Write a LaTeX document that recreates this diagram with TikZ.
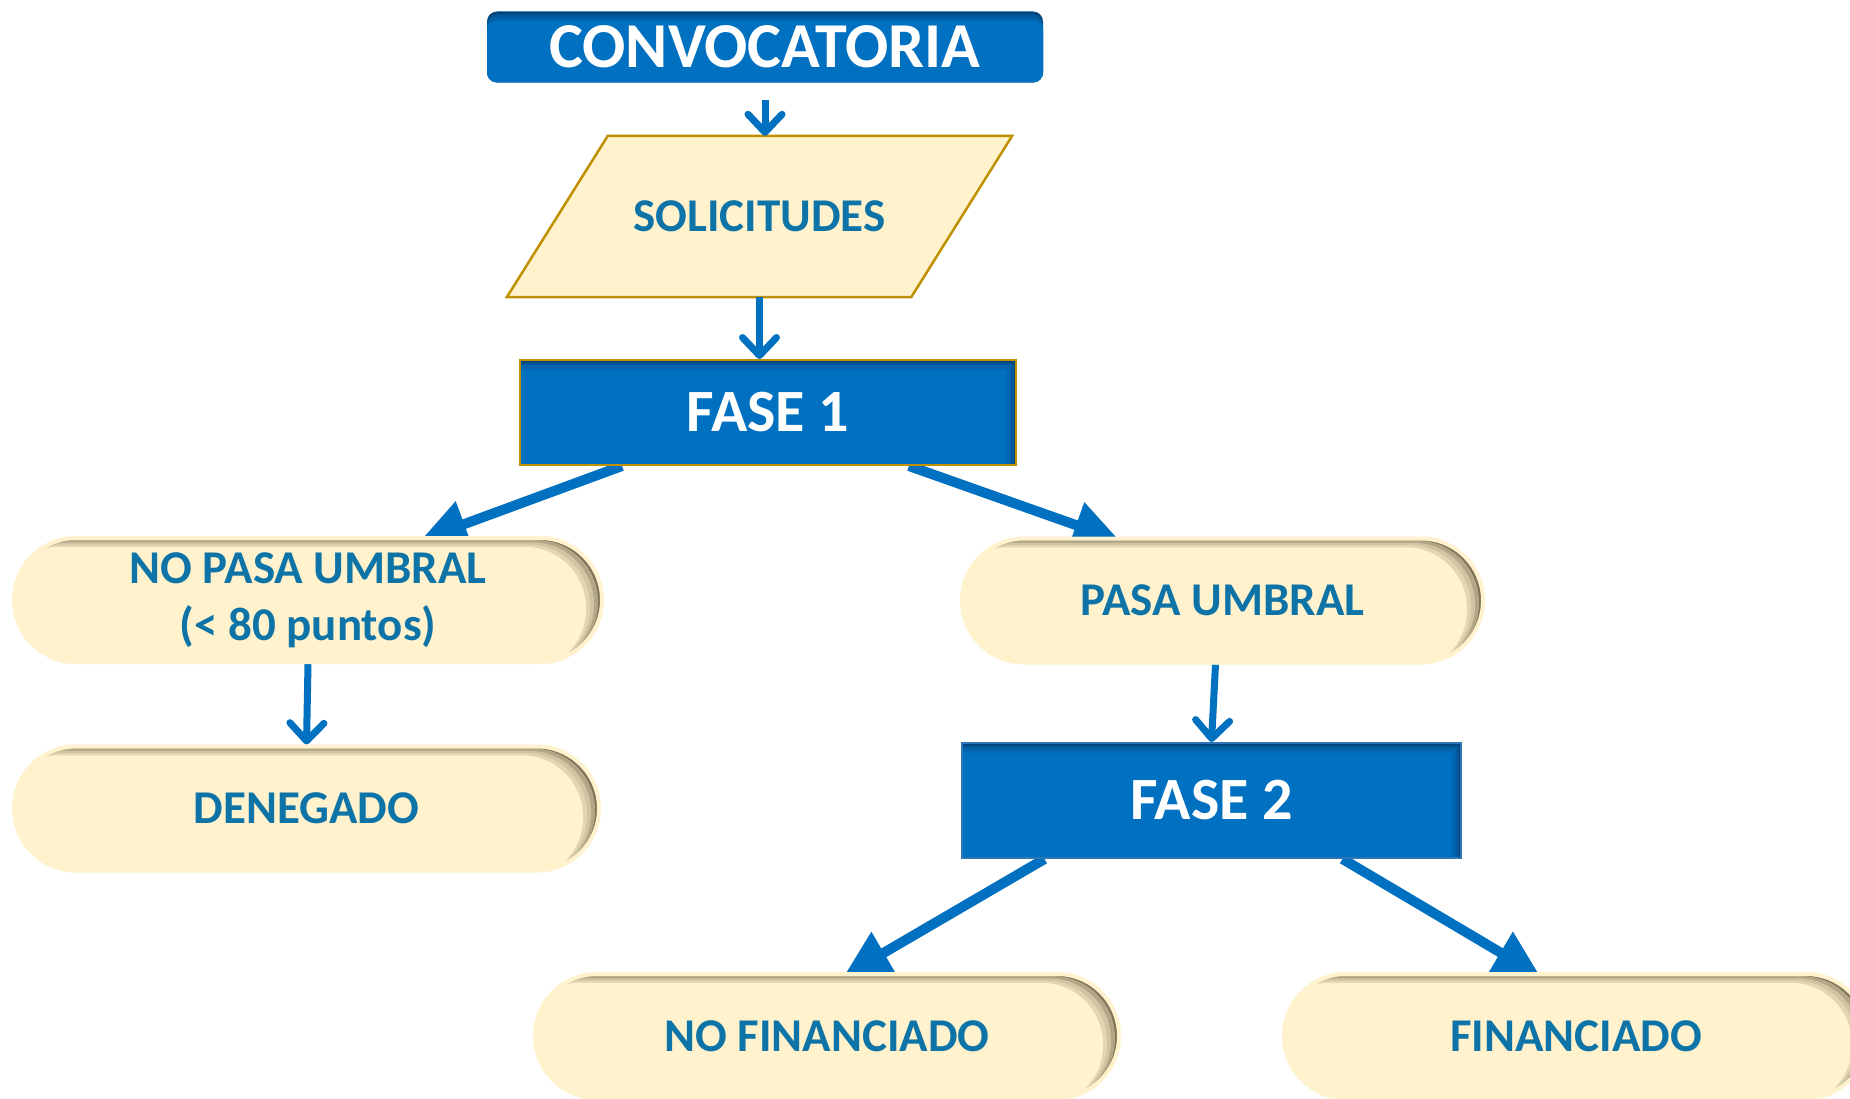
\documentclass[tikz,border=0pt]{standalone}
\usepackage{fontspec}
\setmainfont{Carlito}
\usetikzlibrary{shapes.misc,arrows.meta,backgrounds}
\definecolor{mainblue}{HTML}{0070C0}
\definecolor{darkblue}{HTML}{00457C}
\definecolor{pillfill}{HTML}{FFF2CC}
\definecolor{pillshade}{RGB}{128,116,88}
\definecolor{pilltext}{RGB}{14,116,168}
\definecolor{goldline}{HTML}{BF9000}
\definecolor{lineblue}{HTML}{2E75B6}
\tikzset{
  pill/.style={rounded rectangle, rounded rectangle arc length=180, minimum height=124pt,
    inner sep=0pt, fill=pillshade, draw=pillfill, line width=4pt, text=pilltext, align=center,
    font=\fontsize{47}{57}\selectfont\bfseries,
    path picture={
      \foreach \s/\o in {16/1,12/0.4,8/0.4,4/0.4}
        \fill[pillfill, opacity=\o, rounded corners=61.5pt]
          ([xshift=-\s pt, yshift=-0.55*\s pt]path picture bounding box.south west) rectangle
          ([xshift=-\s pt, yshift=-0.55*\s pt]path picture bounding box.north east);
    }},
  fase/.style={rectangle, fill=darkblue, line width=2pt, text=white,
    font=\fontsize{60}{70}\selectfont\bfseries,
    path picture={
      \foreach \s/\o in {10/1,7.5/0.45,5/0.45,2.5/0.45}
        \fill[mainblue, opacity=\o]
          ([xshift=-\s pt, yshift=-\s pt]path picture bounding box.south west) rectangle
          ([xshift=-\s pt, yshift=-\s pt]path picture bounding box.north east);
    }},
  shortarrow/.style={draw=mainblue, line width=7pt, -{Straight Barb[length=18pt,width=34pt,round]}},
  bigarrow/.style={draw=mainblue, line width=10pt, -{Triangle[length=46pt,width=46pt]}}
}
\begin{document}
\begin{tikzpicture}[x=1pt,y=-1pt]
\useasboundingbox (0,0) rectangle (1850,1099);
\begin{scope}[on background layer]
\fill[white] (0,0) rectangle (1850,1099);
\end{scope}

\node[rectangle, rounded corners=10pt, fill=darkblue, text=white, minimum width=556pt, minimum height=71pt,
  font=\fontsize{64}{74}\selectfont\bfseries,
  path picture={
    \foreach \s/\o in {9/1,6/0.45,3/0.45}
      \fill[mainblue, opacity=\o, rounded corners=10pt]
        ([yshift=-\s pt]path picture bounding box.south west) rectangle
        ([yshift=-\s pt]path picture bounding box.north east);
  }] (conv) at (765,47) {CONVOCATORIA};

\node[rectangle, minimum width=505pt, minimum height=161pt, inner sep=0pt,
  text=pilltext, font=\fontsize{47}{57}\selectfont\bfseries] (solic) at (759.5,216.5) {SOLICITUDES};

\node[fase, draw=goldline, minimum width=496pt, minimum height=105pt] (fase1) at (768,412.5) {FASE 1};

\node[pill, minimum width=588pt] (nopasa) at (308,600) {NO PASA UMBRAL\\(< 80 puntos)};
\node[pill, minimum width=585pt] (deneg) at (306.5,808.5) {DENEGADO};
\node[pill, minimum width=521pt] (pasa) at (1222.5,600.5) {PASA UMBRAL};

\node[fase, draw=lineblue, minimum width=499pt, minimum height=115pt] (fase2) at (1211.5,800.5) {FASE 2};

\node[pill, minimum width=584pt] (nofin) at (827,1036) {NO FINANCIADO};
\node[pill, minimum width=584pt] (fin) at (1576,1036) {FINANCIADO};

\begin{scope}[on background layer]
% parallelogram
\filldraw[fill=pillfill, draw=goldline, line width=2.5pt, line join=miter]
  ([xshift=101pt]solic.north west) -- (solic.north east) -- ([xshift=-101pt]solic.south east)
  -- (solic.south west) -- cycle;
% connectors
\draw[shortarrow, shorten <=17pt] (conv.south) -- (conv.south |- solic.north);
\draw[shortarrow] (solic.south) -- (solic.south |- fase1.north);
\draw[shortarrow] (nopasa.south) -- (deneg.north);
\draw[shortarrow] ([xshift=-7pt]pasa.south) -- (fase2.north);
\draw[bigarrow] ([xshift=-146pt]fase1.south) -- ([xshift=113pt,yshift=-4pt]nopasa.north);
\draw[bigarrow] ([xshift=141pt]fase1.south) -- ([xshift=-103pt,yshift=-4pt]pasa.north);
\draw[bigarrow] ([xshift=-167pt]fase2.south) -- ([xshift=17pt,yshift=-4pt]nofin.north);
\draw[bigarrow] ([xshift=131pt]fase2.south) -- ([xshift=-36pt,yshift=-4pt]fin.north);
\end{scope}
\end{tikzpicture}
\end{document}
